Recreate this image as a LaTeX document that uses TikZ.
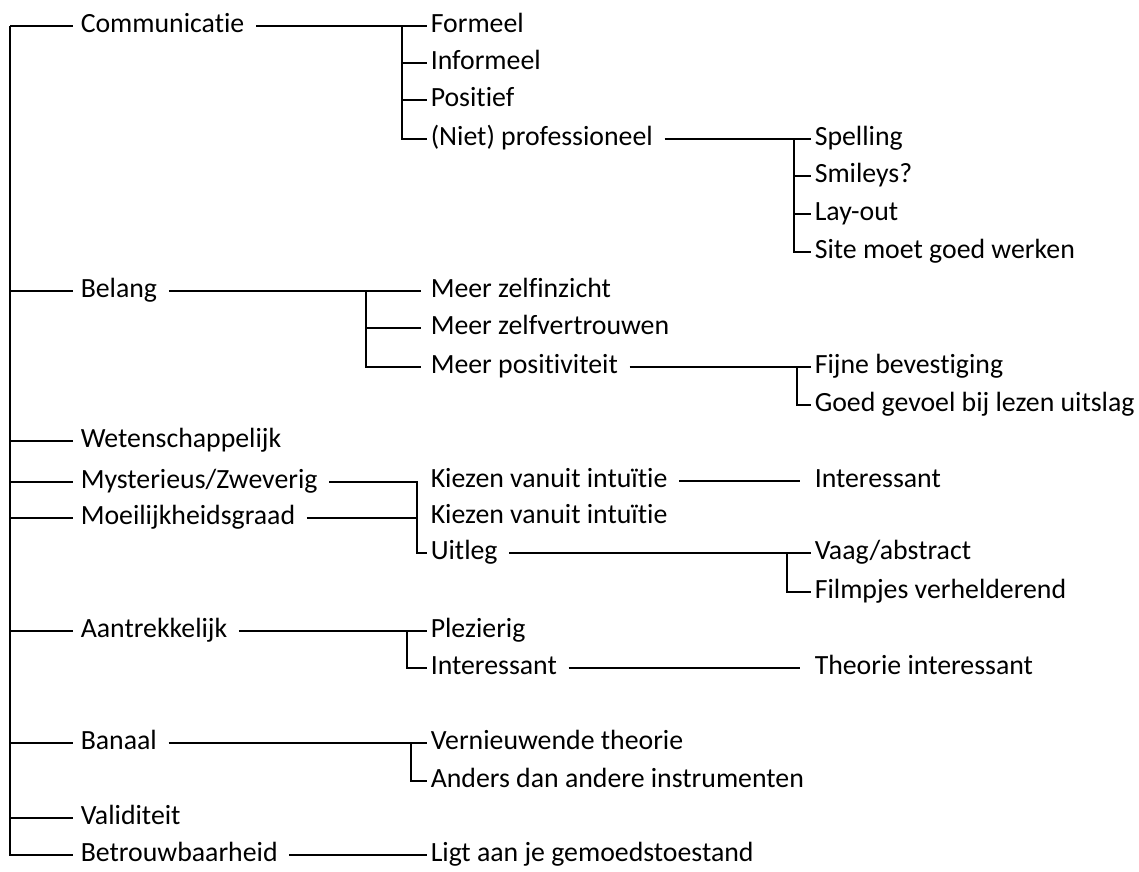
\documentclass[tikz,border=0pt]{standalone}
\usepackage{fontspec}
\setmainfont{Carlito}[Ligatures=NoCommon]

\begin{document}
\begin{tikzpicture}[
		x=1pt, y=-1pt,
		every node/.style={anchor=west, inner xsep=3pt, inner ysep=0pt, text height=18pt, text depth=5pt, font=\fontsize{27.8}{30}\selectfont},
		every path/.style={line width=1.5pt},
		link/.style={shorten <=8pt}
	]
  \useasboundingbox (0, 0) rectangle (1139, 871);
  % first level
  \node (communicatie) at (77, 26) {Communicatie};
  \node (belang) at (77, 291) {Belang};
  \node (wetenschappelijk) at (77, 441) {Wetenschappelijk};
  \node (mysterieus) at (77, 482) {Mysterieus/Zweverig};
  \node (moeilijk) at (77, 518) {Moeilijkheidsgraad};
  \node (aantrekkelijk) at (77, 631) {Aantrekkelijk};
  \node (banaal) at (77, 743) {Banaal};
  \node (validiteit) at (77, 818) {Validiteit};
  \node (betrouwbaar) at (77, 855) {Betrouwbaarheid};
  % second level
  \node (formeel) at (427, 26) {Formeel};
  \node (informeel) at (427, 63) {Informeel};
  \node (positief) at (427, 100) {Positief};
  \node (niet) at (427, 139) {(Niet) professioneel};
  \node (zelfinzicht) at (427, 291) {Meer zelfinzicht};
  \node (zelfvertrouwen) at (427, 328) {Meer zelfvertrouwen};
  \node (positiviteit) at (427, 367) {Meer positiviteit};
  \node (kiezen_a) at (427, 481) {Kiezen vanuit intuïtie};
  \node (kiezen_b) at (427, 517) {Kiezen vanuit intuïtie};
  \node (uitleg) at (427, 553) {Uitleg};
  \node (plezierig) at (427, 631) {Plezierig};
  \node (interessant_b) at (427, 668) {Interessant};
  \node (vernieuwend) at (427, 743) {Vernieuwende theorie};
  \node (anders) at (427, 781) {Anders dan andere instrumenten};
  \node (ligt) at (427, 855) {Ligt aan je gemoedstoestand};
  % third level
  \node (spelling) at (811, 139) {Spelling};
  \node (smileys) at (811, 176) {Smileys?};
  \node (layout) at (811, 214) {Lay-out};
  \node (site) at (811, 252) {Site moet goed werken};
  \node (fijne) at (811, 367) {Fijne bevestiging};
  \node (goed) at (811, 405) {Goed gevoel bij lezen uitslag};
  \node (interessant_a) at (811, 481) {Interessant};
  \node (vaag) at (811, 553) {Vaag/abstract};
  \node (filmpjes) at (811, 592) {Filmpjes verhelderend};
  \node (theorie) at (811, 668) {Theorie interessant};
  % junctions
  \coordinate (trunk) at (10, 0);
  \coordinate (j_comm) at (402, 0);
  \coordinate (j_niet) at (794, 0);
  \coordinate (j_bel) at (366, 0);
  \coordinate (j_pos) at (797, 0);
  \coordinate (j_myst) at (417, 0);
  \coordinate (j_uit) at (787, 0);
  \coordinate (j_aan) at (407, 0);
  \coordinate (j_ban) at (411, 0);
  % trunk
  \draw[shorten >=4pt] (trunk |- communicatie.west) |- (betrouwbaar.west);
  \foreach \n in {communicatie, belang, wetenschappelijk, mysterieus, moeilijk, aantrekkelijk, banaal, validiteit}
    \draw[shorten >=4pt] (trunk |- \n.west) -- (\n.west);
  % communicatie
  \draw[link] (communicatie.east) -- (formeel.west);
  \draw (j_comm |- formeel.west) |- (niet.west);
  \foreach \n in {informeel, positief}
    \draw (j_comm |- \n.west) -- (\n.west);
  \draw[link] (niet.east) -- (spelling.west);
  \draw (j_niet |- spelling.west) |- (site.west);
  \foreach \n in {smileys, layout}
    \draw (j_niet |- \n.west) -- (\n.west);
  % belang
  \draw[link, shorten >=6pt] (belang.east) -- (zelfinzicht.west);
  \draw[shorten >=6pt] (j_bel |- zelfinzicht.west) |- (positiviteit.west);
  \draw[shorten >=6pt] (j_bel |- zelfvertrouwen.west) -- (zelfvertrouwen.west);
  \draw[link] (positiviteit.east) -- (fijne.west);
  \draw (j_pos |- fijne.west) |- (goed.west);
  % mysterieus en moeilijkheidsgraad
  \draw[link] (mysterieus.east) -- (j_myst |- mysterieus.east) |- (uitleg.west);
  \draw[link] (moeilijk.east) -- (j_myst |- moeilijk.east);
  \draw[link, shorten >=11pt] (kiezen_a.east) -- (interessant_a.west);
  \draw[link] (uitleg.east) -- (vaag.west);
  \draw (j_uit |- vaag.west) |- (filmpjes.west);
  % aantrekkelijk
  \draw[link] (aantrekkelijk.east) -- (plezierig.west);
  \draw (j_aan |- plezierig.west) |- (interessant_b.west);
  \draw[link, shorten >=11pt] (interessant_b.east) -- (theorie.west);
  % banaal en betrouwbaarheid
  \draw[link] (banaal.east) -- (vernieuwend.west);
  \draw (j_ban |- vernieuwend.west) |- (anders.west);
  \draw[link] (betrouwbaar.east) -- (ligt.west);
\end{tikzpicture}
\end{document}
